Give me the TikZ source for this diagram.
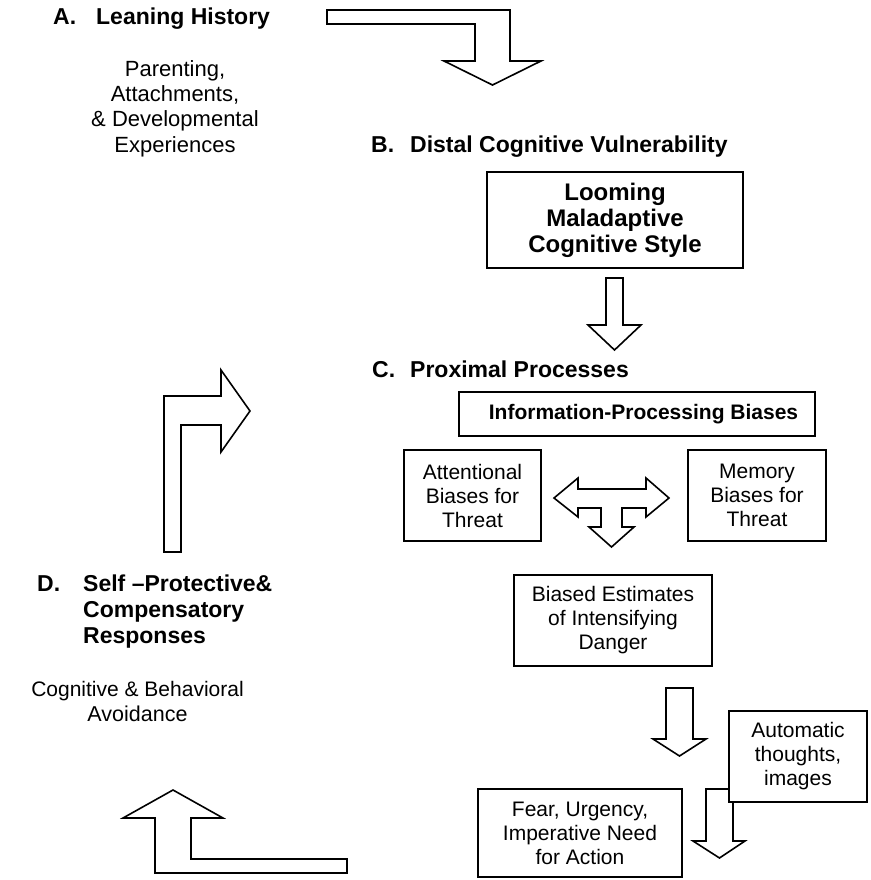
\documentclass[tikz,border=0pt]{standalone}
\usepackage{fontspec}
\setmainfont{Liberation Sans}
\begin{document}
\begin{tikzpicture}[x=1pt,y=-1pt,
  box/.style={draw, line width=1.3pt, fill=white, align=center, inner sep=0pt, font=\fontsize{21}{24}\selectfont},
  blockarrow/.style={draw, line width=1.6pt, line join=miter, fill=white},
  headlabel/.style={font=\bfseries\fontsize{23}{26}\selectfont, inner sep=0pt, anchor=base west},
  plain/.style={font=\fontsize{22}{25}\selectfont, inner sep=0pt, anchor=base}]
\useasboundingbox (0,0) rectangle (870,880);

% ---- labels and free text ----
\node[headlabel] (la) at (53,25) {\makebox[43pt][l]{A.}Leaning History};
\node[plain] (p1) at (175,77) {Parenting,};
\node[plain] (p2) at (175,102) {Attachments,};
\node[plain] (p3) at (175,127) {\& Developmental};
\node[plain] (p4) at (175,152) {Experiences};
\node[headlabel] (lb) at (371,152) {\makebox[39pt][l]{B.}Distal Cognitive Vulnerability};
\node[headlabel] (lc) at (372,377) {\makebox[38pt][l]{C.}Proximal Processes};
\node[headlabel] (ld) at (37,591) {\makebox[46pt][l]{D.}Self –Protective\&};
\node[headlabel] (ld2) at (83,617) {Compensatory};
\node[headlabel] (ld3) at (83,643) {Responses};
\node[plain, font=\fontsize{21}{24}\selectfont] (cb1) at (137.5,696) {Cognitive \& Behavioral};
\node[plain, font=\fontsize{21.5}{24}\selectfont] (cb2) at (137.5,721) {Avoidance};

% ---- boxes ----
\node[box, minimum width=256pt, minimum height=96pt, font=\bfseries\fontsize{24}{26}\selectfont] (loom) at (615,220) {Looming\\Maladaptive\\Cognitive Style};
\node[box, line width=2.6pt, minimum width=356pt, minimum height=44pt, font=\bfseries\fontsize{21}{24}\selectfont] (info) at (637,414) {\hspace*{13pt}Information-Processing Biases};
\node[box, minimum width=137pt, minimum height=91pt] (att) at (472.5,495.5) {Attentional\\Biases for\\Threat};
\node[box, minimum width=138pt, minimum height=91pt] (mem) at (757,495.5) {Memory\\Biases for\\Threat};
\node[box, minimum width=198pt, minimum height=91pt] (bias) at (613,620.5) {Biased Estimates\\of Intensifying\\Danger};
\node[box, minimum width=204pt, minimum height=88pt] (fear) at (580,833) {Fear, Urgency,\\Imperative Need\\for Action};

% ---- block arrows ----
% A -> B
\draw[blockarrow] (327,10) -- (510,10) -- (510,61) -- (541,61) -- (492.5,85) -- (444,61) -- (475,61) -- (475,24) -- (327,24) -- cycle;
% Looming -> C
\draw[blockarrow] (606,278) -- (623,278) -- (623,325) -- (641,325) -- (614.5,350) -- (588,325) -- (606,325) -- cycle;
% T-shaped arrow between attentional and memory
\draw[blockarrow] (554,498) -- (578,478) -- (578,489) -- (646,489) -- (646,478) -- (669,498) -- (646,517) -- (646,508) -- (622,508) -- (622,527) -- (634,527) -- (611.5,547) -- (589,527) -- (601,527) -- (601,508) -- (578,508) -- (578,517) -- cycle;
% Biased -> Fear
\draw[blockarrow] (666,688) -- (693,688) -- (693,739) -- (706,739) -- (679.5,756) -- (653,739) -- (666,739) -- cycle;
% Automatic thoughts arrow (partly behind box)
\draw[blockarrow] (706,789) -- (733,789) -- (733,841) -- (745,841) -- (719.5,858) -- (693,841) -- (706,841) -- cycle;
\node[box, minimum width=138pt, minimum height=91pt] (auto) at (798,756.5) {Automatic\\thoughts,\\images};
% D -> C (upper left)
\draw[blockarrow] (164,552) -- (164,396) -- (221,396) -- (221,370) -- (250,411) -- (221,452) -- (221,425) -- (181,425) -- (181,552) -- cycle;
% bottom -> D
\draw[blockarrow] (347,873) -- (155,873) -- (155,818) -- (123,818) -- (173,790) -- (223,818) -- (191,818) -- (191,859) -- (347,859) -- cycle;
\end{tikzpicture}
\end{document}
